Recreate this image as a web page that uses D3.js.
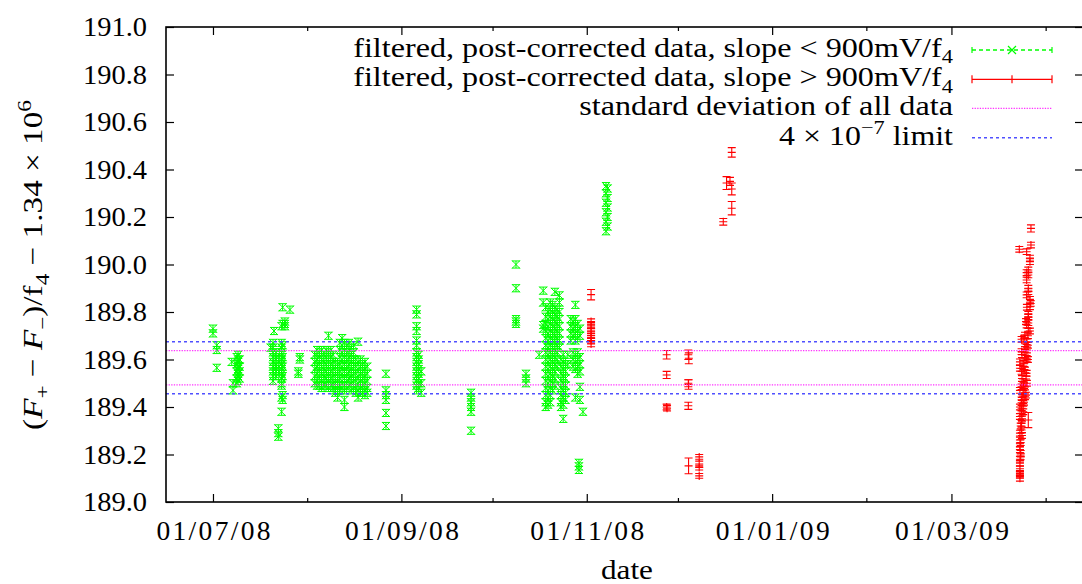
<!DOCTYPE html>
<html>
<head>
<meta charset="utf-8">
<script src="https://cdn.jsdelivr.net/npm/d3@7"></script>
<style>
  html, body { margin: 0; padding: 0; background: #fff; }
  svg { display: block; }
</style>
</head>
<body>
<svg id="chart" width="1082" height="584"></svg>
<script>
// ---------------- data ----------------
const xDomain = ["2008-06-15T13", "2009-04-13T07"];
const yDomain = [189.0, 191.0];
const yTicks = [189.0, 189.2, 189.4, 189.6, 189.8, 190.0, 190.2, 190.4, 190.6, 190.8, 191.0];
const xMajorTicks = ["2008-07-01T00", "2008-09-01T00", "2008-11-01T00", "2009-01-01T00", "2009-03-01T00"];
const xMinorTicks = ["2008-08-01T00", "2008-10-01T00", "2008-12-01T00", "2009-02-01T00", "2009-04-01T00"];

// horizontal reference levels
const stdDevLevels = [189.493, 189.637];
const limitLevels = [189.456, 189.675];

// slope < 900 mV/f4 : [time, values at that time]
const greenErr = 0.015;
const greenJuly = [
  ["2008-07-01T00", [189.73, 189.71]],
  ["2008-07-02T06", [189.66, 189.64, 189.565]],
  ["2008-07-07T04", [189.59]],
  ["2008-07-07T14", [189.50, 189.47]],
  ["2008-07-08T20", [189.61, 189.58, 189.55, 189.52, 189.50]],
  ["2008-07-09T06", [189.62, 189.60, 189.59, 189.57, 189.56, 189.54, 189.53, 189.51]],
  ["2008-07-09T18", [189.60, 189.57, 189.55, 189.52]],
  ["2008-07-20T00", [189.65]],
  ["2008-07-20T18", [189.67, 189.65, 189.63, 189.61, 189.59, 189.57, 189.55, 189.53, 189.51]],
  ["2008-07-21T02", [189.72]],
  ["2008-07-21T18", [189.63, 189.61, 189.60, 189.58, 189.57, 189.56, 189.55, 189.53]],
  ["2008-07-22T12", [189.31, 189.29, 189.275]],
  ["2008-07-23T14", [189.74, 189.67, 189.65, 189.63, 189.62, 189.60, 189.59, 189.58, 189.56, 189.55, 189.54, 189.52, 189.50, 189.49, 189.44, 189.38]],
  ["2008-07-23T22", [189.82, 189.75, 189.66, 189.61, 189.57, 189.53, 189.45, 189.43]],
  ["2008-07-24T16", [189.76, 189.75, 189.74]],
  ["2008-07-26T08", [189.81]],
  ["2008-07-29T02", [189.55, 189.54]],
  ["2008-07-29T14", [189.61, 189.60]]
];
const greenAugust = [
  ["2008-08-03T12", [189.62, 189.59, 189.56, 189.53, 189.50]],
  ["2008-08-04T06", [189.64, 189.60, 189.57, 189.54, 189.51, 189.49]],
  ["2008-08-05T00", [189.63, 189.61, 189.58, 189.55, 189.52, 189.49]],
  ["2008-08-05T18", [189.64, 189.60, 189.57, 189.54, 189.51, 189.48]],
  ["2008-08-06T12", [189.62, 189.59, 189.56, 189.53, 189.50, 189.49]],
  ["2008-08-07T06", [189.64, 189.61, 189.58, 189.55, 189.52, 189.49]],
  ["2008-08-08T00", [189.70, 189.63, 189.60, 189.57, 189.54, 189.51, 189.48]],
  ["2008-08-08T18", [189.64, 189.61, 189.58, 189.55, 189.52, 189.49]],
  ["2008-08-09T12", [189.62, 189.59, 189.56, 189.53, 189.50, 189.48]],
  ["2008-08-10T06", [189.59, 189.56, 189.53, 189.50, 189.47, 189.46]],
  ["2008-08-11T00", [189.58, 189.55, 189.52, 189.49, 189.47, 189.44]],
  ["2008-08-11T18", [189.67, 189.64, 189.61, 189.58, 189.55, 189.52, 189.49, 189.47]],
  ["2008-08-12T12", [189.69, 189.66, 189.63, 189.60, 189.57, 189.54, 189.51, 189.48]],
  ["2008-08-13T06", [189.67, 189.64, 189.61, 189.58, 189.55, 189.52, 189.49, 189.47, 189.43, 189.40]],
  ["2008-08-14T00", [189.66, 189.63, 189.60, 189.57, 189.54, 189.51, 189.48]],
  ["2008-08-14T18", [189.67, 189.64, 189.61, 189.58, 189.55, 189.52, 189.49]],
  ["2008-08-15T12", [189.65, 189.62, 189.59, 189.56, 189.53, 189.50, 189.47]],
  ["2008-08-16T06", [189.66, 189.63, 189.60, 189.57, 189.54, 189.51, 189.48]],
  ["2008-08-17T00", [189.60, 189.57, 189.54, 189.51, 189.48, 189.46]],
  ["2008-08-17T18", [189.675, 189.59, 189.56, 189.53, 189.50, 189.47, 189.44]],
  ["2008-08-18T12", [189.60, 189.57, 189.54, 189.51, 189.48, 189.46]],
  ["2008-08-19T06", [189.58, 189.55, 189.52, 189.49, 189.46]],
  ["2008-08-20T00", [189.59, 189.56, 189.53, 189.50, 189.47, 189.45]],
  ["2008-08-20T18", [189.57, 189.54, 189.51, 189.48, 189.46]],
  ["2008-08-26T22", [189.54, 189.47, 189.45, 189.43, 189.375, 189.32]]
];
const greenAutumn = [
  ["2008-09-06T00", [189.81, 189.79, 189.74, 189.72, 189.68, 189.66, 189.63, 189.61, 189.59, 189.57, 189.55, 189.53, 189.51, 189.49, 189.47]],
  ["2008-09-06T16", [189.62, 189.60, 189.58, 189.56, 189.54, 189.52, 189.50, 189.48]],
  ["2008-09-07T12", [189.55, 189.50, 189.46]],
  ["2008-09-23T22", [189.46, 189.44, 189.42, 189.40, 189.38, 189.30]],
  ["2008-10-08T17", [190.00, 189.90, 189.77, 189.76, 189.75]],
  ["2008-10-12T00", [189.54, 189.52, 189.50]],
  ["2008-10-16T08", [189.62]],
  ["2008-10-17T16", [189.89, 189.84, 189.745, 189.73]],
  ["2008-10-18T12", [189.82, 189.78, 189.75, 189.72, 189.69, 189.66, 189.63, 189.60, 189.57, 189.54, 189.51, 189.48, 189.45, 189.42, 189.40]],
  ["2008-10-19T06", [189.80, 189.77, 189.74, 189.71, 189.68, 189.65, 189.62, 189.59, 189.56, 189.53, 189.50, 189.47, 189.44, 189.41]],
  ["2008-10-20T00", [189.84, 189.81, 189.78, 189.75, 189.72, 189.69, 189.66, 189.63, 189.60, 189.57, 189.54, 189.51, 189.48, 189.45, 189.42]],
  ["2008-10-20T18", [189.83, 189.80, 189.77, 189.74, 189.71, 189.68, 189.65, 189.62, 189.59, 189.56, 189.53, 189.50, 189.47]],
  ["2008-10-21T12", [189.885, 189.82, 189.79, 189.76, 189.73, 189.70, 189.67, 189.64, 189.61, 189.58, 189.55, 189.52, 189.49]],
  ["2008-10-22T06", [189.81, 189.78, 189.75, 189.72, 189.69, 189.66, 189.63, 189.60, 189.57]],
  ["2008-10-23T00", [189.87, 189.84, 189.80, 189.77, 189.74, 189.71, 189.68, 189.65]],
  ["2008-10-23T12", [189.60, 189.57, 189.54, 189.51, 189.48, 189.45, 189.42, 189.40]],
  ["2008-10-24T06", [189.62, 189.59, 189.56, 189.53, 189.50, 189.47, 189.44, 189.41, 189.35]],
  ["2008-10-25T00", [189.58, 189.55, 189.52, 189.49, 189.46, 189.43]],
  ["2008-10-25T18", [189.62, 189.58]],
  ["2008-10-26T18", [189.77, 189.74, 189.71, 189.68]],
  ["2008-10-27T12", [189.76, 189.73, 189.70, 189.63, 189.60, 189.57]],
  ["2008-10-28T06", [189.83, 189.77, 189.74, 189.71, 189.68, 189.62, 189.59, 189.56, 189.44]],
  ["2008-10-29T00", [189.75, 189.72, 189.69, 189.63, 189.60, 189.57, 189.54]],
  ["2008-10-29T10", [189.165, 189.15, 189.135]],
  ["2008-10-29T18", [189.73, 189.70, 189.61, 189.58, 189.55, 189.485, 189.43]],
  ["2008-10-30T18", [189.38]],
  ["2008-11-07T08", [190.33, 190.30, 190.26, 190.22, 190.18, 190.14]],
  ["2008-11-07T20", [190.32, 190.28, 190.24, 190.20, 190.16]]
];

// slope > 900 mV/f4 : [time, value, error]
const redAutumn = [
  ["2008-11-02T10", 189.873, 0.022],
  ["2008-11-02T10", 189.76, 0.011], ["2008-11-02T10", 189.745, 0.011], ["2008-11-02T10", 189.73, 0.011],
  ["2008-11-02T10", 189.72, 0.011], ["2008-11-02T10", 189.70, 0.011], ["2008-11-02T10", 189.69, 0.011],
  ["2008-11-02T10", 189.68, 0.011], ["2008-11-02T10", 189.665, 0.011],
  ["2008-11-27T07", 189.62, 0.018], ["2008-11-27T07", 189.535, 0.015],
  ["2008-11-27T07", 189.40, 0.012], ["2008-11-27T10", 189.395, 0.012],
  ["2008-12-04T10", 189.62, 0.020], ["2008-12-04T14", 189.605, 0.023],
  ["2008-12-04T10", 189.50, 0.015], ["2008-12-04T12", 189.495, 0.020],
  ["2008-12-04T10", 189.405, 0.015], ["2008-12-04T12", 189.152, 0.033],
  ["2008-12-08T00", 189.19, 0.010], ["2008-12-08T00", 189.16, 0.012],
  ["2008-12-08T00", 189.145, 0.010], ["2008-12-08T00", 189.11, 0.010],
  ["2008-12-15T22", 190.18, 0.014], ["2008-12-17T00", 190.343, 0.027],
  ["2008-12-18T03", 190.35, 0.017], ["2008-12-18T17", 190.318, 0.025],
  ["2008-12-18T17", 190.237, 0.028], ["2008-12-18T17", 190.472, 0.020]
];
const redSpring = [
  ["2009-03-27T04", 190.152, 0.015], ["2009-03-27T04", 190.082, 0.012],
  ["2009-03-23T08", 190.064, 0.012], ["2009-03-25T18", 190.054, 0.012],
  ["2009-03-26T20", 190.027, 0.012], ["2009-03-26T20", 190.012, 0.012],
  ["2009-03-26T07", 189.977, 0.012], ["2009-03-25T18", 189.966, 0.012],
  ["2009-03-26T07", 189.956, 0.012], ["2009-03-25T18", 189.935, 0.012],
  ["2009-03-26T07", 189.90, 0.012], ["2009-03-26T07", 189.886, 0.012],
  ["2009-03-25T18", 189.872, 0.012], ["2009-03-26T20", 189.853, 0.012],
  ["2009-03-27T02", 189.836, 0.012], ["2009-03-26T20", 189.822, 0.012],
  ["2009-03-25T20", 189.82, 0.012], ["2009-03-26T07", 189.79, 0.012],
  ["2009-03-26T07", 189.78, 0.012], ["2009-03-26T07", 189.766, 0.012],
  ["2009-03-25T13", 189.76, 0.012], ["2009-03-25T18", 189.745, 0.012],
  ["2009-03-26T07", 189.731, 0.012], ["2009-03-26T20", 189.72, 0.012],
  ["2009-03-25T05", 189.703, 0.012], ["2009-03-26T04", 189.70, 0.012],
  ["2009-03-24T21", 189.69, 0.012], ["2009-03-24T02", 189.685, 0.012],
  ["2009-03-25T18", 189.675, 0.012], ["2009-03-26T04", 189.66, 0.012],
  ["2009-03-25T05", 189.654, 0.012], ["2009-03-25T20", 189.64, 0.012],
  ["2009-03-24T02", 189.633, 0.012], ["2009-03-24T05", 189.62, 0.012],
  ["2009-03-25T05", 189.619, 0.012], ["2009-03-25T18", 189.605, 0.012],
  ["2009-03-26T04", 189.60, 0.012], ["2009-03-23T13", 189.59, 0.012],
  ["2009-03-24T15", 189.584, 0.012], ["2009-03-24T21", 189.57, 0.012],
  ["2009-03-23T13", 189.563, 0.012], ["2009-03-25T05", 189.556, 0.012],
  ["2009-03-24T02", 189.55, 0.012], ["2009-03-25T18", 189.542, 0.012],
  ["2009-03-25T13", 189.53, 0.012], ["2009-03-24T05", 189.52, 0.012],
  ["2009-03-24T15", 189.506, 0.012], ["2009-03-25T20", 189.50, 0.012],
  ["2009-03-24T21", 189.49, 0.012], ["2009-03-24T02", 189.485, 0.012],
  ["2009-03-25T05", 189.472, 0.012], ["2009-03-23T13", 189.47, 0.012],
  ["2009-03-24T15", 189.458, 0.012], ["2009-03-25T13", 189.45, 0.012],
  ["2009-03-25T05", 189.443, 0.012], ["2009-03-24T05", 189.44, 0.012],
  ["2009-03-24T02", 189.43, 0.012], ["2009-03-24T21", 189.42, 0.012],
  ["2009-03-24T15", 189.415, 0.012], ["2009-03-23T13", 189.40, 0.012],
  ["2009-03-24T02", 189.395, 0.012], ["2009-03-24T15", 189.38, 0.012],
  ["2009-03-24T02", 189.373, 0.012], ["2009-03-23T13", 189.36, 0.012],
  ["2009-03-24T05", 189.35, 0.012], ["2009-03-26T07", 189.345, 0.032],
  ["2009-03-24T02", 189.331, 0.012], ["2009-03-23T19", 189.32, 0.012],
  ["2009-03-24T02", 189.303, 0.012], ["2009-03-23T13", 189.29, 0.012],
  ["2009-03-24T05", 189.28, 0.012], ["2009-03-23T13", 189.261, 0.012],
  ["2009-03-23T19", 189.25, 0.012], ["2009-03-23T13", 189.233, 0.012],
  ["2009-03-23T13", 189.22, 0.012], ["2009-03-23T19", 189.205, 0.012],
  ["2009-03-23T19", 189.19, 0.012], ["2009-03-23T13", 189.18, 0.012],
  ["2009-03-23T13", 189.163, 0.012], ["2009-03-23T13", 189.14, 0.012],
  ["2009-03-23T13", 189.12, 0.012], ["2009-03-23T13", 189.114, 0.012],
  ["2009-03-23T13", 189.10, 0.012]
];

const legendLabels = [
  [{t: "filtered, post-corrected data, slope < 900mV/f"}, {t: "4", s: "sub"}],
  [{t: "filtered, post-corrected data, slope > 900mV/f"}, {t: "4", s: "sub"}],
  [{t: "standard deviation of all data"}],
  [{t: "4 × 10"}, {t: "−7", s: "sup"}, {t: " limit"}]
];
const yLabel = [
  {t: "("}, {t: "F", s: "it"}, {t: "+", s: "sub"}, {t: " − "}, {t: "F", s: "it"}, {t: "−", s: "sub"},
  {t: ")/f"}, {t: "4", s: "sub"}, {t: " − 1.34 × 10"}, {t: "6", s: "sup"}
];
const xLabel = "date";

// ---------------- layout ----------------
const L = 166, R = 1083, T = 27, B = 502;
const FS = 27.5;
const FONT = '"Liberation Serif", monospace';
const parse = d3.utcParse("%Y-%m-%dT%H");
const fmt = d3.utcFormat("%d/%m/%y");

const x = d3.scaleUtc().domain(xDomain.map(parse)).range([L, R]);
const y = d3.scaleLinear().domain(yDomain).range([B, T]);

const svg = d3.select("#chart");
svg.append("rect").attr("width", 1082).attr("height", 584).attr("fill", "#fff");
svg.append("defs").append("clipPath").attr("id", "plotClip")
  .append("rect").attr("x", L).attr("y", T).attr("width", R - L).attr("height", B - T);

// rich text helper: sub/superscripts and italics via tspans
function richText(sel, parts, fs) {
  let shift = 0;
  parts.forEach(p => {
    let target = 0, size = fs;
    if (p.s === "sub") { target = fs * 0.24; size = fs * 0.7; }
    if (p.s === "sup") { target = -fs * 0.4; size = fs * 0.7; }
    sel.append("tspan")
      .attr("dy", target - shift)
      .attr("font-size", size)
      .style("font-style", p.s === "it" ? "italic" : "normal")
      .text(p.t);
    shift = target;
  });
}
// stretch a text horizontally to a given width about an anchor x
function fitWidth(node, target, ax) {
  const w = node.getComputedTextLength();
  if (!w) return;
  const k = target / w;
  d3.select(node).attr("transform", `translate(${ax},0) scale(${k},1) translate(${-ax},0)`);
}

// ---------------- data marks ----------------
const plot = svg.append("g").attr("clip-path", "url(#plotClip)");

const greenPts = [...greenJuly, ...greenAugust, ...greenAutumn]
  .flatMap(([t, vals]) => vals.map(v => ({t: parse(t), v})));
const redPts = [...redAutumn, ...redSpring].map(([t, v, e]) => ({t: parse(t), v, e}));

plot.append("g")
  .attr("fill", "none").attr("stroke", "#00ff00").attr("stroke-width", 1)
  .selectAll("path").data(greenPts).join("path")
  .attr("transform", d => `translate(${x(d.t)},${y(d.v)})`)
  .attr("d", d => {
    const h = y(d.v - greenErr) - y(d.v);
    return `M-4,-4L4,4M-4,4L4,-4M-4,${-h}H4M-4,${h}H4M0,${-h}V${h}`;
  });

plot.append("g")
  .attr("fill", "none").attr("stroke", "#ff0000").attr("stroke-width", 1.1)
  .selectAll("path").data(redPts).join("path")
  .attr("transform", d => `translate(${x(d.t)},${y(d.v)})`)
  .attr("d", d => {
    const a = y(d.v + d.e) - y(d.v), b = y(d.v - d.e) - y(d.v);
    return `M0,${a}V${b}M-4,${a}H4M-4,${b}H4M-4,0H4M0,-4V4`;
  });

// reference levels
const levelStyles = [
  {levels: stdDevLevels, color: "#ff33ff", width: 1.2, dash: "1.3,1.3"},
  {levels: limitLevels, color: "#5050ff", width: 1.6, dash: "3,3"}
];
levelStyles.forEach(st => {
  plot.append("g").selectAll("line").data(st.levels).join("line")
    .attr("x1", L).attr("x2", R)
    .attr("y1", d => y(d)).attr("y2", d => y(d))
    .attr("stroke", st.color).attr("stroke-width", st.width)
    .attr("stroke-dasharray", st.dash);
});

// ---------------- axes ----------------
const axisColor = "#000";
function styleAxis(g) {
  g.attr("font-family", null);
  g.select(".domain").remove();
  g.selectAll(".tick line").attr("stroke", axisColor).attr("stroke-width", 1.2);
  g.selectAll("text").attr("font-size", FS).attr("fill", "#000").style("font-family", FONT);
}
const xMaj = xMajorTicks.map(parse), xMin = xMinorTicks.map(parse);

const gxb = svg.append("g").attr("transform", `translate(0,${B})`)
  .call(d3.axisBottom(x).tickValues(xMaj).tickFormat(fmt).tickSizeInner(-8).tickSizeOuter(0).tickPadding(0))
  .call(styleAxis);
// wider label spacing, as the slashes in the labels are set wide
gxb.selectAll("text").attr("y", 38).attr("dy", 0)
  .attr("textLength", 114).attr("lengthAdjust", "spacing");

svg.append("g").attr("transform", `translate(0,${B})`)
  .call(d3.axisBottom(x).tickValues(xMin).tickFormat("").tickSizeInner(-4).tickSizeOuter(0))
  .call(styleAxis);
svg.append("g").attr("transform", `translate(0,${T})`)
  .call(d3.axisTop(x).tickValues(xMaj).tickFormat("").tickSizeInner(-8).tickSizeOuter(0))
  .call(styleAxis);
svg.append("g").attr("transform", `translate(0,${T})`)
  .call(d3.axisTop(x).tickValues(xMin).tickFormat("").tickSizeInner(-4).tickSizeOuter(0))
  .call(styleAxis);

const gyl = svg.append("g").attr("transform", `translate(${L},0)`)
  .call(d3.axisLeft(y).tickValues(yTicks).tickFormat(d3.format(".1f")).tickSizeInner(-8).tickSizeOuter(0).tickPadding(19))
  .call(styleAxis);
gyl.selectAll("text").each(function () { fitWidth(this, 64, -19); });
svg.append("g").attr("transform", `translate(${R},0)`)
  .call(d3.axisRight(y).tickValues(yTicks).tickFormat("").tickSizeInner(-8).tickSizeOuter(0))
  .call(styleAxis);

// frame
svg.append("rect").attr("x", L).attr("y", T).attr("width", R - L).attr("height", B - T)
  .attr("fill", "none").attr("stroke", axisColor).attr("stroke-width", 1.6);

// axis titles
const xt = svg.append("text").attr("x", 627).attr("y", 579).attr("text-anchor", "middle")
  .attr("font-size", FS).style("font-family", FONT).text(xLabel);
fitWidth(xt.node(), 52, 627);

const yg = svg.append("g").attr("transform", "translate(42,265) rotate(-90)");
const yt = yg.append("text").attr("x", 0).attr("y", 0).attr("text-anchor", "middle")
  .attr("font-size", FS).style("font-family", FONT);
richText(yt, yLabel, FS);
fitWidth(yt.node(), 330, 0);

// ---------------- legend ----------------
const legX0 = 972, legX1 = 1052, legMid = 1012, legTextEnd = 953;
const legRows = [50, 79.3, 108.3, 137.7];
const legWidths = [600, 600, 374, 174];
const leg = svg.append("g");
legendLabels.forEach((parts, i) => {
  const t = leg.append("text").attr("x", legTextEnd).attr("y", legRows[i] + 7)
    .attr("text-anchor", "end").attr("font-size", FS - 1).style("font-family", FONT);
  richText(t, parts, FS - 1);
  fitWidth(t.node(), legWidths[i], legTextEnd);
});
// green sample: dashed line, end bars, cross
const g0 = legRows[0];
leg.append("line").attr("x1", legX0).attr("x2", legX1).attr("y1", g0).attr("y2", g0)
  .attr("stroke", "#00ff00").attr("stroke-width", 1.3).attr("stroke-dasharray", "4,3");
leg.append("path").attr("fill", "none").attr("stroke", "#00ff00").attr("stroke-width", 1.2)
  .attr("d", `M${legX0},${g0 - 3}V${g0 + 3}M${legX1},${g0 - 3}V${g0 + 3}M${legMid - 4},${g0 - 4}L${legMid + 4},${g0 + 4}M${legMid - 4},${g0 + 4}L${legMid + 4},${g0 - 4}`);
// red sample: solid line, end bars, plus
const r0 = legRows[1];
leg.append("path").attr("fill", "none").attr("stroke", "#ff0000").attr("stroke-width", 1.2)
  .attr("d", `M${legX0},${r0}H${legX1}M${legX0},${r0 - 4}V${r0 + 4}M${legX1},${r0 - 4}V${r0 + 4}M${legMid},${r0 - 4}V${r0 + 4}`);
// reference level samples
levelStyles.forEach((st, i) => {
  const yy = legRows[2 + i];
  leg.append("line").attr("x1", legX0).attr("x2", legX1).attr("y1", yy).attr("y2", yy)
    .attr("stroke", st.color).attr("stroke-width", st.width).attr("stroke-dasharray", st.dash);
});
</script>
</body>
</html>
